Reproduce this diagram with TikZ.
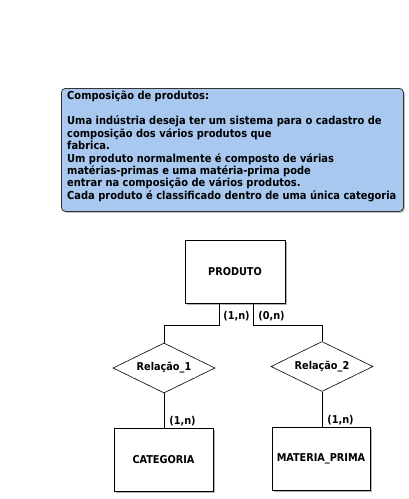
\documentclass[tikz,border=0pt]{standalone}
\usepackage{fontspec}
\setmainfont{DejaVu Sans Condensed}
\usetikzlibrary{shapes.geometric,shadows}
\definecolor{noteblue}{HTML}{A8C8F0}
\begin{document}
\begin{tikzpicture}[x=1pt,y=-1pt,
  lbl/.style={font=\bfseries\fontsize{10.8}{12}\selectfont},
  ent/.style={lbl, draw=black, fill=white, line width=0.8pt, minimum width=99, minimum height=63, inner sep=0,
    drop shadow={shadow xshift=2pt, shadow yshift=-2pt, opacity=0.6, fill=gray}},
  rel/.style={lbl, diamond, draw=black, line width=0.6pt, aspect=2, inner sep=0, minimum width=102, minimum height=50},
  card/.style={lbl, inner sep=0},
  conn/.style={line width=0.6pt, draw=black}]
\useasboundingbox (0,0) rectangle (409,499);
\node[draw=black!80, fill=noteblue, rounded corners=4pt, line width=0.8pt,
  minimum width=342, minimum height=123, anchor=north west, inner sep=0,
  drop shadow={shadow xshift=1.5pt, shadow yshift=-1.5pt, opacity=0.5, fill=gray}] (note) at (61,88) {};
\node[anchor=north west, align=left, inner sep=0, font=\bfseries\fontsize{11}{12.45}\selectfont] (notetext) at (67,91)
{Composição de produtos:\\[12.45pt]
Uma indústria deseja ter um sistema para o cadastro de\\
composição dos vários produtos que\\
fabrica.\\
Um produto normalmente é composto de várias\\
matérias-primas e uma matéria-prima pode\\
entrar na composição de vários produtos.\\
Cada produto é classificado dentro de uma única categoria};
\node[ent, minimum width=100] (prod) at (235,271.5) {PRODUTO};
\node[rel] (r1) at (164,368) {Relação\_1};
\node[rel] (r2) at (322,366.5) {Relação\_2};
\node[ent] (cat) at (163.5,459.5) {CATEGORIA};
\node[ent, minimum width=98] (mat) at (321,458.5) {MATERIA\_PRIMA};
\draw[conn] ([xshift=-16pt]prod.south) -- ++(0,22) -| (r1.north);
\draw[conn] ([xshift=18pt]prod.south) -- ++(0,22) -| (r2.north);
\draw[conn] (r1.south) -- (r1.south |- cat.north);
\draw[conn] (r2.south) -- (r2.south |- mat.north);
\node[card] (c1) at (236.5,316) {(1,n)};
\node[card] (c2) at (271.5,316) {(0,n)};
\node[card] (c3) at (182.5,421.5) {(1,n)};
\node[card] (c4) at (340.5,420.5) {(1,n)};
\end{tikzpicture}
\end{document}
